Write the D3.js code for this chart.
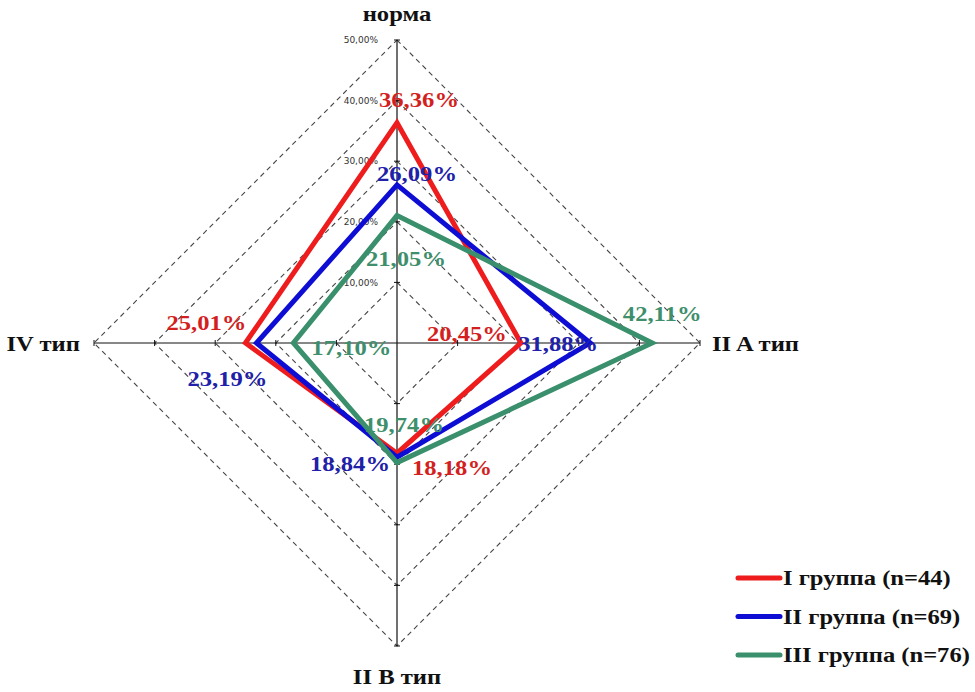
<!DOCTYPE html>
<html><head><meta charset="utf-8">
<script src="https://cdn.jsdelivr.net/npm/d3@7"></script>
<style>body{margin:0;background:#fff}svg{display:block}</style>
</head><body>
<script>
const axes = ["норма", "II A тип", "II B тип", "IV тип"];
const seriesNames = ["I группа (n=44)", "II группа (n=69)", "III группа (n=76)"];
const group1 = [36.36, 20.45, 18.18, 25.01];
const group2 = [26.09, 31.88, 18.84, 23.19];
const group3 = [21.05, 42.11, 19.74, 17.10];
const levels = [10, 20, 30, 40, 50];
const tickLabels = ["10,00%", "20,00%", "30,00%", "40,00%", "50,00%"];
const valueLabels = [
  ["36,36%", "20,45%", "18,18%", "25,01%"],
  ["26,09%", "31,88%", "18,84%", "23,19%"],
  ["21,05%", "42,11%", "19,74%", "17,10%"]
];

// styling
const lineColors = ["#ee1c1c", "#0d0dd4", "#3a8f6c"];
const textColors = ["#d41f1f", "#2020a8", "#3f8f6c"];
const labelOffsets = [
  [[22,-23],[-54,-10],[55,14],[-39,-21]],
  [[20,-12],[-32,0],[-47,6],[-29,35]],
  [[9,43],[10,-30],[7,-38],[58,4]]
];
const SX = 1.12; // horizontal stretch of texts

const W = 975, H = 692, cx = 397, cy = 343, R = 303;
const svg = d3.select("body").append("svg").attr("width", W).attr("height", H);
const r = d3.scaleLinear().domain([0, 50]).range([0, R]);
const angles = [-Math.PI/2, 0, Math.PI/2, Math.PI];
const pt = (i, v) => [cx + r(v)*Math.cos(angles[i]), cy + r(v)*Math.sin(angles[i])];

function stretchedText(x, y, txt, anchor, size, color, sx) {
  return svg.append("g").attr("transform", `translate(${x},${y}) scale(${sx || SX},1)`)
    .append("text").attr("x",0).attr("y",0).attr("dy","0.35em")
    .attr("text-anchor",anchor)
    .attr("font-family","Liberation Serif, Times New Roman, serif").attr("font-weight","bold")
    .attr("font-size",size).attr("fill",color).text(txt);
}

// grid diamonds
levels.forEach(l => {
  svg.append("path")
    .attr("d", d3.line()(axes.map((a,i)=>pt(i,l))) + "Z")
    .attr("fill","none").attr("stroke","#444").attr("stroke-width",1.1)
    .attr("stroke-dasharray","5,4");
});
// axes
axes.forEach((a,i)=>{
  const [x,y] = pt(i,50);
  svg.append("line").attr("x1",cx).attr("y1",cy).attr("x2",x).attr("y2",y)
    .attr("stroke","#111").attr("stroke-width",1.2);
  levels.forEach(l=>{
    const [tx,ty] = pt(i,l);
    const dx = Math.sin(angles[i])*3, dy = Math.cos(angles[i])*3;
    svg.append("line").attr("x1",tx-dx).attr("y1",ty-dy).attr("x2",tx+dx).attr("y2",ty+dy)
      .attr("stroke","#111").attr("stroke-width",1);
  });
});
// tick labels on vertical axis
levels.forEach((l,k)=>{
  const [x,y] = pt(0,l);
  svg.append("text").attr("x",x-19).attr("y",y).attr("dy","0.35em")
    .attr("text-anchor","end").attr("font-family","DejaVu Sans, sans-serif")
    .attr("font-size",9).attr("fill","#333").text(tickLabels[k]);
});
// series
const data = [group1, group2, group3];
data.forEach((s,k)=>{
  svg.append("path").attr("d", d3.line()(s.map((v,i)=>pt(i,v))) + "Z")
    .attr("fill","none").attr("stroke",lineColors[k]).attr("stroke-width",5)
    .attr("stroke-linejoin","miter");
});
// value labels
data.forEach((s,k)=>{
  s.forEach((v,i)=>{
    const [x,y] = pt(i,v);
    stretchedText(x+labelOffsets[k][i][0], y+labelOffsets[k][i][1], valueLabels[k][i], "middle", 22, textColors[k]);
  });
});
// axis titles
stretchedText(cx, 13, axes[0], "middle", 22, "#111");
stretchedText(712, cy, axes[1], "start", 22, "#111");
stretchedText(cx, 676, axes[2], "middle", 22, "#111");
stretchedText(80, cy, axes[3], "end", 22, "#111");
// legend
seriesNames.forEach((n,k)=>{
  const y = 578 + k*38.5;
  svg.append("line").attr("x1",738).attr("x2",780).attr("y1",y).attr("y2",y)
    .attr("stroke",lineColors[k]).attr("stroke-width",5).attr("stroke-linecap","round");
  stretchedText(783, y, n, "start", 21, "#111", 1.17);
});
</script>
</body></html>
